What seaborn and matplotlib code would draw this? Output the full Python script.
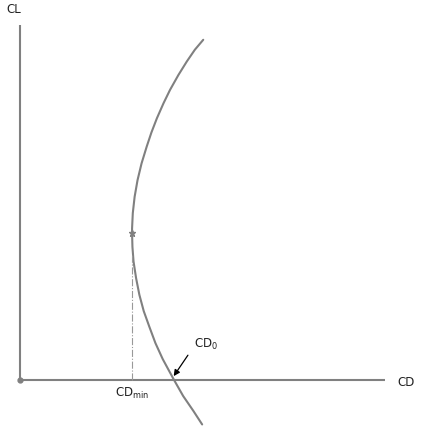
"""Drag polar sketch: CL vs CD with CD0 and CDmin marked."""

import matplotlib
matplotlib.use("Agg")
import matplotlib.pyplot as plt
import seaborn as sns
import pandas as pd

# curve points (CD, CL), top to bottom
cd_curve = [0.502, 0.479, 0.457, 0.434, 0.411, 0.393, 0.375, 0.360, 0.347, 0.333,
            0.322, 0.314, 0.309, 0.307, 0.307, 0.308, 0.311, 0.318, 0.327, 0.339,
            0.354, 0.371, 0.391, 0.421, 0.447, 0.475, 0.499]
cl_curve = [0.958, 0.930, 0.897, 0.859, 0.817, 0.779, 0.737, 0.697, 0.657, 0.610,
            0.563, 0.516, 0.470, 0.427, 0.414, 0.375, 0.334, 0.287, 0.240, 0.194,
            0.151, 0.104, 0.059, 0.002, -0.045, -0.087, -0.125]

cd_min = 0.307
cl_at_cd_min = 0.414
cd_zero = 0.421

sns.set_style("white")
plt.rcParams["font.family"] = ["DejaVu Sans"]

grey = "#808080"
fs = 8.5

fig = plt.figure(figsize=(4.23, 4.28), dpi=100)
ax = fig.add_axes([0, 0, 1, 1])
ax.set_xlim(-0.0548, 1.104)
ax.set_ylim(-0.135, 1.070)
ax.axis("off")

# axes drawn as plain lines
ax.plot([0, 0], [0, 1.0], color=grey, lw=1.5, solid_capstyle="butt")
ax.plot([0, 1.0], [0, 0], color=grey, lw=1.5, solid_capstyle="butt")
ax.plot([0], [0], "o", color=grey, ms=3.5)

df = pd.DataFrame({"CD": cd_curve, "CL": cl_curve})
sns.lineplot(data=df, x="CD", y="CL", sort=False, estimator=None, color=grey,
             lw=1.5, ax=ax)

# CDmin construction line and marker
ax.plot([cd_min, cd_min], [0, cl_at_cd_min - 0.06], color="#999999", lw=0.8,
        linestyle="-.")
ax.plot([cd_min], [cl_at_cd_min], marker="*", color=grey, ms=5)

ax.text(-0.016, 1.042, "CL", fontsize=fs, ha="center", va="center", color="#222222")
ax.text(1.058, -0.006, "CD", fontsize=fs, ha="center", va="center", color="#222222")
ax.text(cd_min, -0.037, r"CD$_{\mathrm{min}}$", fontsize=fs, ha="center",
        va="center", color="#222222")
ax.text(0.51, 0.101, r"CD$_{\mathrm{0}}$", fontsize=fs, ha="center", va="center",
        color="#222222")
ax.annotate("", xy=(cd_zero, 0.011), xytext=(0.460, 0.070),
            arrowprops=dict(arrowstyle="-|>", color="black", lw=0.9,
                            mutation_scale=9, shrinkA=0, shrinkB=0))

fig.savefig("out.png", dpi=100)
